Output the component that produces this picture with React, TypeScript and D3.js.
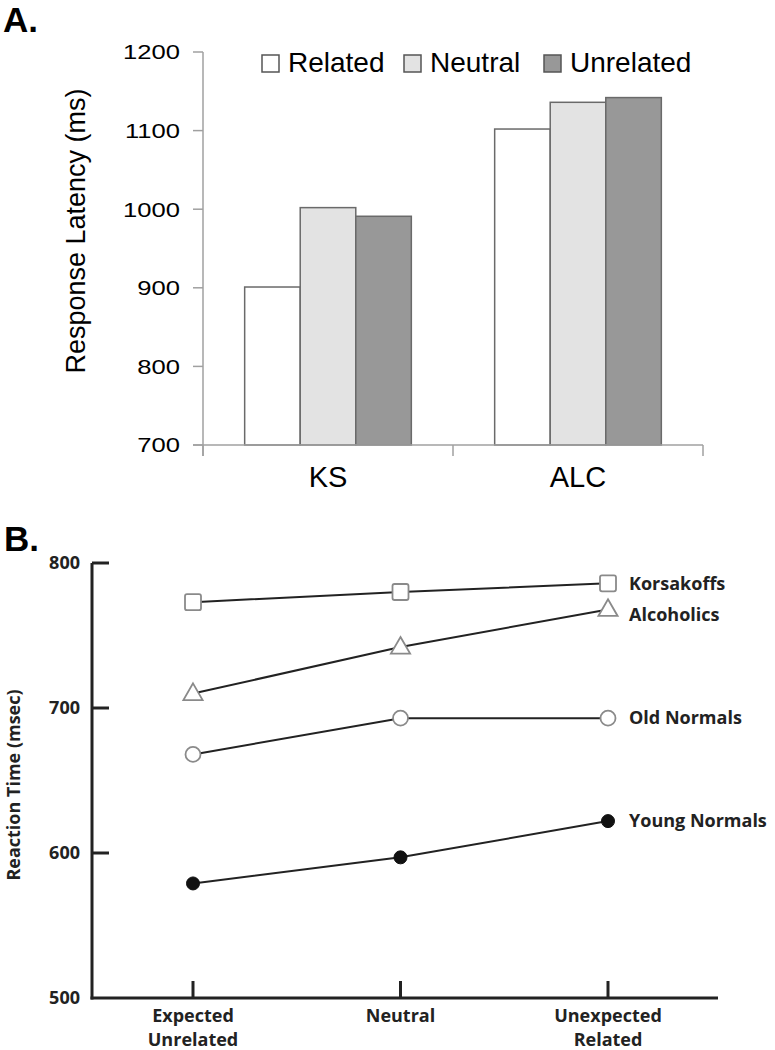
import React from 'react'
import * as d3 from 'd3'

// Panel A
const groups = ['KS', 'ALC']
const conditions = ['Related', 'Neutral', 'Unrelated']
const condFill = ['#ffffff', '#e3e3e3', '#989898']
const latencyKS = [901, 1002, 991]
const latencyALC = [1102, 1136, 1142]
const latencyTicks = [700, 800, 900, 1000, 1100, 1200]

// Panel B
const conditionsB = [['Expected', 'Unrelated'], ['Neutral'], ['Unexpected', 'Related']]
const groupNames = ['Korsakoffs', 'Alcoholics', 'Old Normals', 'Young Normals']
const korsakoffs = [773, 780, 786]
const alcoholics = [710, 742, 768]
const oldNormals = [668, 693, 693]
const youngNormals = [579, 597, 622]
const rtTicks = [500, 600, 700, 800]

const fontA = 'Liberation Sans, Arial, Helvetica, sans-serif'
const fontB = '"Open Sans", "DejaVu Sans", sans-serif'

function PanelA() {
  const values = [latencyKS, latencyALC]
  const x0 = d3.scaleBand().domain(groups).range([203, 703]).paddingInner(0).paddingOuter(0)
  const x1 = d3.scaleBand().domain(conditions).range([0, x0.bandwidth()]).paddingOuter(0.75).paddingInner(0)
  const y = d3.scaleLinear().domain([700, 1200]).range([445, 52])
  const axisColor = '#a0a0a0'
  const boundaries = [203, ...groups.map(g => (x0(g) as number) + x0.bandwidth())]
  return (
    <g>
      <text x={3} y={32} fontFamily={fontA} fontWeight={700} fontSize={35}>A.</text>
      {/* bars */}
      {groups.map((g, gi) => conditions.map((c, ci) => (
        <rect key={`${g}-${c}`}
          x={(x0(g) as number) + (x1(c) as number)}
          y={y(values[gi][ci])}
          width={x1.bandwidth()}
          height={y(700) - y(values[gi][ci])}
          fill={condFill[ci]} stroke='#6a6a6a' strokeWidth={1.5} />
      )))}
      {/* y axis */}
      <line x1={203} x2={203} y1={y(1200)} y2={456} stroke={axisColor} strokeWidth={1.5} />
      {latencyTicks.map(t => (
        <g key={t}>
          <line x1={193} x2={203} y1={y(t)} y2={y(t)} stroke={axisColor} strokeWidth={1.5} />
          <text transform={`translate(180,${y(t)}) scale(1.22,1)`} dy='0.35em' textAnchor='end' fontFamily={fontA} fontSize={21}>{t}</text>
        </g>
      ))}
      {/* x axis */}
      <line x1={193} x2={703} y1={445} y2={445} stroke={axisColor} strokeWidth={1.5} />
      {boundaries.map(b => (
        <line key={b} x1={b} x2={b} y1={445} y2={456} stroke={axisColor} strokeWidth={1.5} />
      ))}
      {groups.map(g => (
        <text key={g} x={(x0(g) as number) + x0.bandwidth() / 2} y={487} textAnchor='middle'
          fontFamily={fontA} fontSize={29}>{g}</text>
      ))}
      <text transform={`translate(85,231) rotate(-90)`} textAnchor='middle'
        fontFamily={fontA} fontSize={27}>Response Latency (ms)</text>
      {/* legend */}
      {conditions.map((c, i) => {
        const lx = [262, 404, 544][i]
        return (
          <g key={c}>
            <rect x={lx} y={55} width={17} height={17} fill={condFill[i]} stroke='#555' strokeWidth={1.5} />
            <text x={lx + 26} y={72} fontFamily={fontA} fontSize={28}>{c}</text>
          </g>
        )
      })}
    </g>
  )
}

function Marker({ kind, cx, cy }: { kind: number, cx: number, cy: number }) {
  const stroke = '#8a8a8a'
  if (kind === 0) return <rect x={cx - 8} y={cy - 8} width={16} height={16} rx={2} fill='#fff' stroke={stroke} strokeWidth={1.8} />
  if (kind === 1) return <path d={d3.symbol(d3.symbolTriangle, 160)() as string} transform={`translate(${cx},${cy + 1})`} fill='#fff' stroke={stroke} strokeWidth={1.8} />
  if (kind === 2) return <circle cx={cx} cy={cy} r={7.5} fill='#fff' stroke={stroke} strokeWidth={1.8} />
  return <circle cx={cx} cy={cy} r={6.5} fill='#111' stroke='#111' />
}

function PanelB() {
  const series = [korsakoffs, alcoholics, oldNormals, youngNormals]
  const x = d3.scalePoint().domain(conditionsB.map(c => c.join(' '))).range([193, 608])
  const y = d3.scaleLinear().domain([500, 800]).range([998, 563])
  const line = d3.line<number>().x((d, i) => x(conditionsB[i].join(' ')) as number).y(d => y(d))
  const labelDy = [0, 5, 0, 0]
  return (
    <g>
      <text x={4} y={551} fontFamily={fontA} fontWeight={700} fontSize={35}>B.</text>
      {/* axes */}
      <line x1={92} x2={92} y1={y(800)} y2={y(500) + 1.5} stroke='#222' strokeWidth={3} />
      <line x1={90.5} x2={718} y1={y(500)} y2={y(500)} stroke='#222' strokeWidth={3} />
      {rtTicks.map(t => (
        <g key={t}>
          {t > 500 && <line x1={92} x2={109} y1={y(t)} y2={y(t)} stroke='#222' strokeWidth={3} />}
          <text x={80} y={y(t)} dy='0.35em' textAnchor='end' fontFamily={fontB} fontWeight={700} fontSize={18} fill='#222'>{t}</text>
        </g>
      ))}
      {conditionsB.map(c => {
        const cx = x(c.join(' ')) as number
        return (
          <g key={c.join(' ')}>
            <line x1={cx} x2={cx} y1={y(500)} y2={y(500) - 17} stroke='#222' strokeWidth={3} />
            {c.map((w, i) => (
              <text key={w} x={cx} y={1022 + i * 24} textAnchor='middle' fontFamily={fontB} fontWeight={700} fontSize={18} fill='#222'>{w}</text>
            ))}
          </g>
        )
      })}
      <text transform={`translate(20,785) rotate(-90)`} textAnchor='middle' fontFamily={fontB} fontWeight={700} fontSize={18} fill='#222'>Reaction Time (msec)</text>
      {/* series */}
      {series.map((s, si) => (
        <g key={groupNames[si]}>
          <path d={line(s) as string} fill='none' stroke='#222' strokeWidth={2} />
          {s.map((v, i) => (
            <Marker key={i} kind={si} cx={x(conditionsB[i].join(' ')) as number} cy={y(v)} />
          ))}
          <text x={629} y={y(s[2]) + labelDy[si]} dy='0.35em' fontFamily={fontB} fontWeight={700} fontSize={18} fill='#222'>{groupNames[si]}</text>
        </g>
      ))}
    </g>
  )
}

export default function App() {
  return (
    <svg width={775} height={1050} style={{ position: 'absolute', left: 0, top: 0, background: '#fff' }}>
      <rect width={775} height={1050} fill='#fff' />
      <PanelA />
      <PanelB />
    </svg>
  )
}
